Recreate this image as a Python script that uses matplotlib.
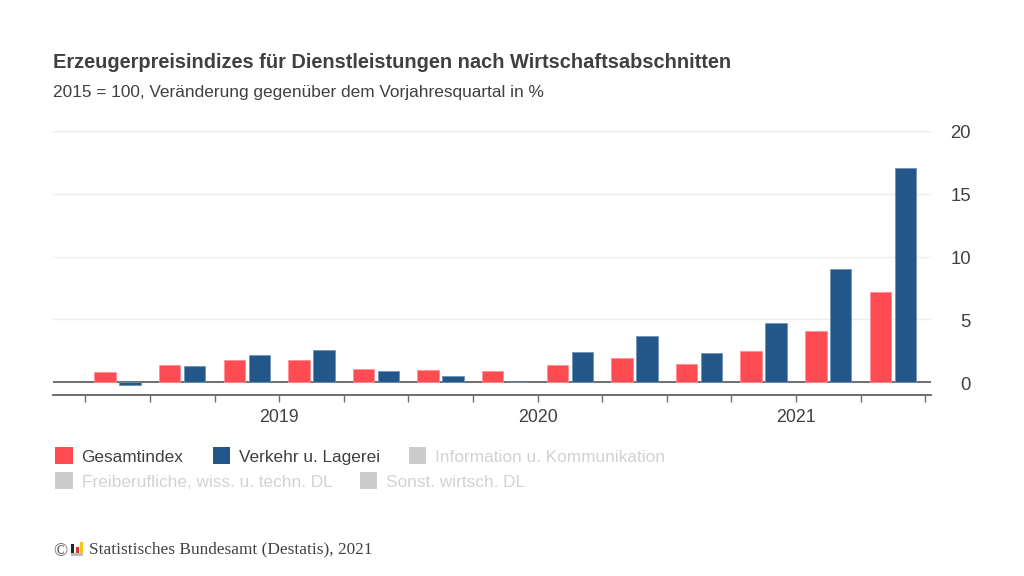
import matplotlib.pyplot as plt
from matplotlib.patches import Rectangle
from matplotlib.transforms import ScaledTranslation

# Veränderung gegenüber dem Vorjahresquartal in %
gesamtindex = [0.8, 1.4, 1.8, 1.8, 1.1, 1.0, 0.9, 1.4, 1.9, 1.5, 2.5, 4.1, 7.2]
verkehr = [-0.2, 1.3, 2.2, 2.6, 0.9, 0.5, 0.05, 2.4, 3.7, 2.3, 4.7, 9.0, 17.0]
years = ["2019", "2020", "2021"]
year_positions = [2.5, 6.5, 10.5]
y_ticks = [0, 5, 10, 15, 20]

RED = "#ff4b52"
BLUE = "#235789"
GREY = "#cccccc"
TEXT = "#404040"
W, H = 1024, 576

plt.rcParams["font.family"] = ["Liberation Sans", "DejaVu Sans"]

fig = plt.figure(figsize=(W / 100, H / 100), dpi=100, facecolor="white")
ax = fig.add_axes([53 / W, 1 - 395 / H, 878 / W, 264.4 / H])

x = list(range(len(gesamtindex)))
ax.bar([i - 0.193 for i in x], gesamtindex, width=0.333, color=RED,
       edgecolor="#ff8f94", linewidth=0.6, zorder=2)
ax.bar([i + 0.193 for i in x], verkehr, width=0.333, color=BLUE,
       edgecolor="#6f93b5", linewidth=0.6, zorder=2)

ax.set_xlim(-1.0, 12.591)
ax.set_ylim(-1, 20)

# Nulllinie und Raster
ax.yaxis.grid(True, color="#ececec", linewidth=1.0, zorder=0)
ax.set_axisbelow(True)
ax.axhline(0, color="#6e6e6e", linewidth=1.4, zorder=1.5)

for side in ["top", "left", "right"]:
    ax.spines[side].set_visible(False)
ax.spines["bottom"].set_color("#6e6e6e")
ax.spines["bottom"].set_linewidth(1.4)

ax.yaxis.tick_right()
ax.set_yticks(y_ticks)
ax.tick_params(axis="y", length=0, pad=28.8, labelsize=13.3, labelcolor=TEXT)
# Zahlen sitzen im Original etwas unter den Rasterlinien
down = ScaledTranslation(0, -1.3 / 100, fig.dpi_scale_trans)
for lab in ax.get_yticklabels():
    lab.set_ha("right")
    lab.set_transform(lab.get_transform() + down)

# Quartalsgrenzen als Ticks, Jahre dazwischen
ax.set_xticks([i - 0.5 for i in range(14)])
ax.set_xticklabels([])
ax.tick_params(axis="x", length=5, width=1.0, color="#6e6e6e")
for yr, pos in zip(years, year_positions):
    ax.annotate(yr, (pos, 0), xycoords=("data", "axes fraction"), xytext=(0, -16),
                textcoords="offset points", ha="center", va="center",
                fontsize=12.8, color=TEXT)

fig.text(53 / W, 1 - 62 / H, "Erzeugerpreisindizes für Dienstleistungen nach Wirtschaftsabschnitten",
         fontsize=14.4, fontweight="bold", color=TEXT, va="center")
fig.text(53 / W, 1 - 92 / H, "2015 = 100, Veränderung gegenüber dem Vorjahresquartal in %",
         fontsize=12.44, color=TEXT, va="center")

# Legende von Hand, die Einträge stehen in zwei ungleichen Zeilen
legend_items = [
    ("Gesamtindex", RED, TEXT, 55.3, 447),
    ("Verkehr u. Lagerei", BLUE, TEXT, 212.7, 447),
    ("Information u. Kommunikation", GREY, "#d2d2d2", 409, 447),
    ("Freiberufliche, wiss. u. techn. DL", GREY, "#d2d2d2", 55.3, 472),
    ("Sonst. wirtsch. DL", GREY, "#d2d2d2", 359.7, 472),
]
for label, col, txt_col, px, py in legend_items:
    fig.add_artist(Rectangle((px / W, 1 - (py + 17.4) / H), 17.4 / W, 17.4 / H,
                             transform=fig.transFigure, facecolor=col, edgecolor="none"))
    fig.text((px + 26.2) / W, 1 - (py + 10.3) / H, label, fontsize=12.45, color=txt_col, va="center")

# Fußzeile mit kleinem Logo
fig.text(53 / W, 1 - 551.5 / H, "©", fontsize=13.5, color="#555555", va="center",
         family=["Liberation Serif", "DejaVu Serif"])
logo = [(70.7, 544, 3.3, 9, "#222222"), (75.7, 547, 3, 6, "#dd3333"),
        (80.3, 542, 3, 11, "#f5c518"), (70.7, 553, 12.6, 3, "#bbbbbb")]
for px, py, pw, ph, col in logo:
    fig.add_artist(Rectangle((px / W, 1 - (py + ph) / H), pw / W, ph / H,
                             transform=fig.transFigure, facecolor=col, edgecolor="none"))
fig.text(89 / W, 1 - 549 / H, "Statistisches Bundesamt (Destatis), 2021", fontsize=12.4,
         color=TEXT, va="center", family=["Liberation Serif", "DejaVu Serif"])

plt.savefig("out.png", dpi=100)
